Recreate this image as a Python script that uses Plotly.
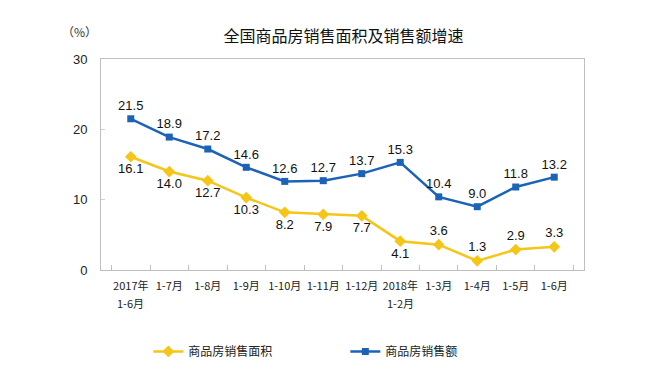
import plotly.graph_objects as go

categories = ["2017年 1-6月", "1-7月", "1-8月", "1-9月", "1-10月", "1-11月", "1-12月",
              "2018年 1-2月", "1-3月", "1-4月", "1-5月", "1-6月"]
tick_line1 = ["2017年", "1-7月", "1-8月", "1-9月", "1-10月", "1-11月", "1-12月",
              "2018年", "1-3月", "1-4月", "1-5月", "1-6月"]
tick_line2 = ["1-6月", "", "", "", "", "", "", "1-2月", "", "", "", ""]
area_growth = [16.1, 14.0, 12.7, 10.3, 8.2, 7.9, 7.7, 4.1, 3.6, 1.3, 2.9, 3.3]
sales_growth = [21.5, 18.9, 17.2, 14.6, 12.6, 12.7, 13.7, 15.3, 10.4, 9.0, 11.8, 13.2]
area_label_pos = ["bottom center"] * 8 + ["top center"] * 4
sales_label_pos = ["top center"] * 12

FONT = "Liberation Sans, Arial, Noto Sans CJK SC, sans-serif"
CJK = "Noto Sans CJK SC, sans-serif"
YELLOW = "#F5C518"
BLUE = "#1B63B6"

fig = go.Figure()
fig.add_trace(go.Scatter(
    x=categories, y=area_growth, name="商品房销售面积",
    mode="lines+markers+text",
    line=dict(color=YELLOW, width=2.5),
    marker=dict(symbol="diamond", size=9, color=YELLOW),
    text=[f"{v:.1f}" for v in area_growth], textposition=area_label_pos,
    textfont=dict(size=13, color="#111111", family=FONT),
))
fig.add_trace(go.Scatter(
    x=categories, y=sales_growth, name="商品房销售额",
    mode="lines+markers+text",
    line=dict(color=BLUE, width=2.5),
    marker=dict(symbol="square", size=7, color=BLUE),
    text=[f"{v:.1f}" for v in sales_growth], textposition=sales_label_pos,
    textfont=dict(size=13, color="#111111", family=FONT),
))

annotations = [dict(text="（%）", xref="paper", yref="paper", x=-0.045, y=1.13,
                    xanchor="center", yanchor="middle",
                    showarrow=False, font=dict(size=12, color="#333333", family=CJK))]
for cat, line2 in zip(categories, tick_line2):
    if line2:
        annotations.append(dict(text=line2, x=cat, xref="x", yref="paper", y=-0.155,
                                xanchor="center", yanchor="middle", showarrow=False,
                                font=dict(size=11, color="#222222", family=CJK)))

fig.update_layout(
    width=658, height=370,
    margin=dict(l=93, r=82, t=51, b=104),
    paper_bgcolor="white", plot_bgcolor="white",
    font=dict(family=FONT, color="#222222"),
    title=dict(text="全国商品房销售面积及销售额增速", x=0.51, xanchor="center",
               y=1 - 28 / 370, yanchor="middle", yref="container",
               font=dict(size=16, color="#111111", family=CJK)),
    showlegend=True,
    legend=dict(orientation="h", x=0.098, xanchor="left", y=-0.386, yanchor="middle",
                entrywidth=152, entrywidthmode="pixels",
                font=dict(size=12, color="#222222", family=CJK),
                itemwidth=30),
    annotations=annotations,
)
fig.update_xaxes(
    type="category", tickson="boundaries", ticks="inside", ticklen=5, tickcolor="#BFBFBF",
    tickangle=0, ticklabelstandoff=6,
    tickvals=categories, ticktext=tick_line1,
    showline=True, linecolor="#BFBFBF", linewidth=1, mirror=True, showgrid=False,
    tickfont=dict(size=11, color="#222222", family=CJK),
)
fig.update_yaxes(
    range=[0, 30], tickvals=[0, 10, 20, 30], ticks="inside", ticklen=4, tickcolor="#D0D0D0",
    ticklabelstandoff=10,
    showline=True, linecolor="#BFBFBF", linewidth=1, mirror=True, showgrid=False,
    zeroline=False, tickfont=dict(size=13, color="#222222"),
)

fig.write_html("out.html")
